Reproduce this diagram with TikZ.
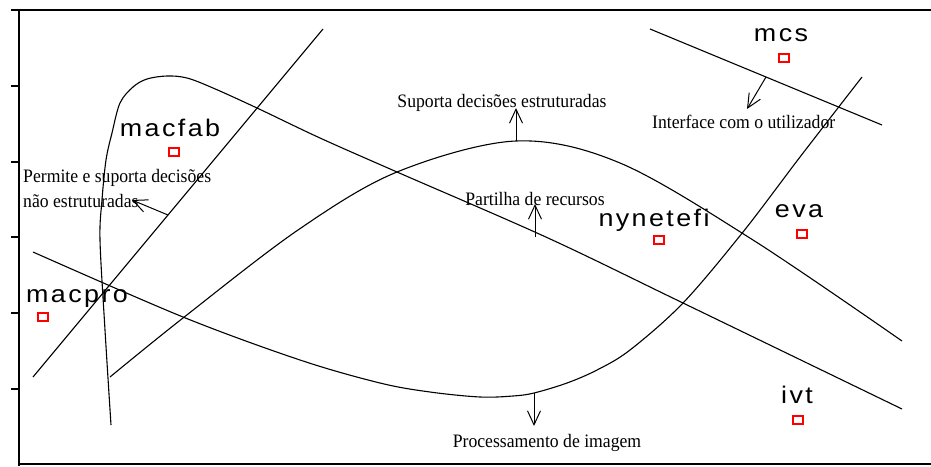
\documentclass[tikz,border=0pt]{standalone}
\usepackage{fontspec}
\setmainfont[FakeStretch=0.93]{Liberation Serif}
\newfontfamily\labfont[LetterSpace=10,FakeStretch=1.12]{Liberation Sans}
\usetikzlibrary{arrows.meta}
\tikzset{
  curve/.style={line width=1.1pt},
  frameline/.style={line width=2pt},
  ann/.style={font=\fontsize{19}{23}\selectfont, inner sep=0pt},
  lab/.style={font=\labfont\fontsize{24}{28}\selectfont, inner sep=0pt},
  site/.style={draw=red, line width=2.3pt, minimum width=9.5pt, minimum height=7.5pt, inner sep=0pt},
  arr/.style={-{Straight Barb[length=14pt,width=13pt]}, line width=1pt}
}
\begin{document}
\begin{tikzpicture}[x=1pt,y=-1pt]
\useasboundingbox (0,0) rectangle (931,466);
% frame
\draw[frameline] (11,10) -- (931,10);
\draw[frameline] (18.5,10) -- (18.5,466);
\draw[frameline] (18.5,464) -- (931,464);
\foreach \t in {86,161.5,237,312.5,388.5} \draw[frameline] (11,\t) -- (18.5,\t);
% straight lines
\coordinate (a1) at (33,377);
\coordinate (a2) at (323,29);
\draw[curve] (a1) -- (a2);
\coordinate (e1) at (650,29);
\coordinate (e2) at (882,125);
\draw[curve] (e1) -- (e2);
% loop curve
\draw[curve] plot[smooth, tension=0.55] coordinates {(111,425) (105,330) (100,240) (102,200) (106,160) (112,133) (120,103) (133,87) (147,79) (167,76) (187,78) (213,88) (257,108) (320,138) (397,172) (548,238) (683,303) (902,409)};
% U curve
\draw[curve] plot[smooth, tension=0.55] coordinates {(33,252) (183,317) (300,360) (380,383) (430,392) (480,397) (513,396) (534,393) (567,383) (597,370) (630,350) (683,303) (743,232) (800,157) (862,77)};
% arch curve
\draw[curve] plot[smooth, tension=0.55] coordinates {(110,377) (183,318) (298,230) (397,172) (516,141) (620,163) (753,240) (902,341)};
% arrows
\coordinate (s0) at (516,141); \coordinate (s1) at (516,108);
\coordinate (p0) at (535,237); \coordinate (p1) at (535,204);
\coordinate (m0) at (534,393); \coordinate (m1) at (534,426);
\coordinate (n0) at (168,215); \coordinate (n1) at (132,200);
\coordinate (i0) at (766,77);  \coordinate (i1) at (747,109);
\draw[arr] (s0) -- (s1);
\draw[arr] (p0) -- (p1);
\draw[arr] (m0) -- (m1);
\draw[arr] (n0) -- (n1);
\draw[arr] (i0) -- (i1);
% annotations
\node[ann, anchor=base] (tsup) at (502,107) {Suporta decisões estruturadas};
\node[ann, anchor=base] (tpar) at (535,205) {Partilha de recursos};
\node[ann, anchor=base] (tpro) at (547,447) {Processamento de imagem};
\node[ann, anchor=base west] (tint) at (652,128) {Interface com o utilizador};
\node[ann, anchor=base west] (tper1) at (23,182) {Permite e suporta decisões};
\node[ann, anchor=base west] (tper2) at (23,207) {não estruturadas};
% labels
\node[lab, anchor=base] (lmacfab) at (170,136) {macfab};
\node[lab, anchor=base] (lmacpro) at (77,302) {macpro};
\node[lab, anchor=base] (lnyn) at (654,226) {nynetefi};
\node[lab, anchor=base] (leva) at (799,217) {eva};
\node[lab, anchor=base] (lmcs) at (781,41) {mcs};
\node[lab, anchor=base] (livt) at (797,403) {ivt};
% sites
\node[site] (smacfab) at (174,152) {};
\node[site] (smacpro) at (43,317) {};
\node[site] (snyn) at (659,240) {};
\node[site] (seva) at (802,234) {};
\node[site] (smcs) at (784,58) {};
\node[site] (sivt) at (798,420) {};
\end{tikzpicture}
\end{document}
